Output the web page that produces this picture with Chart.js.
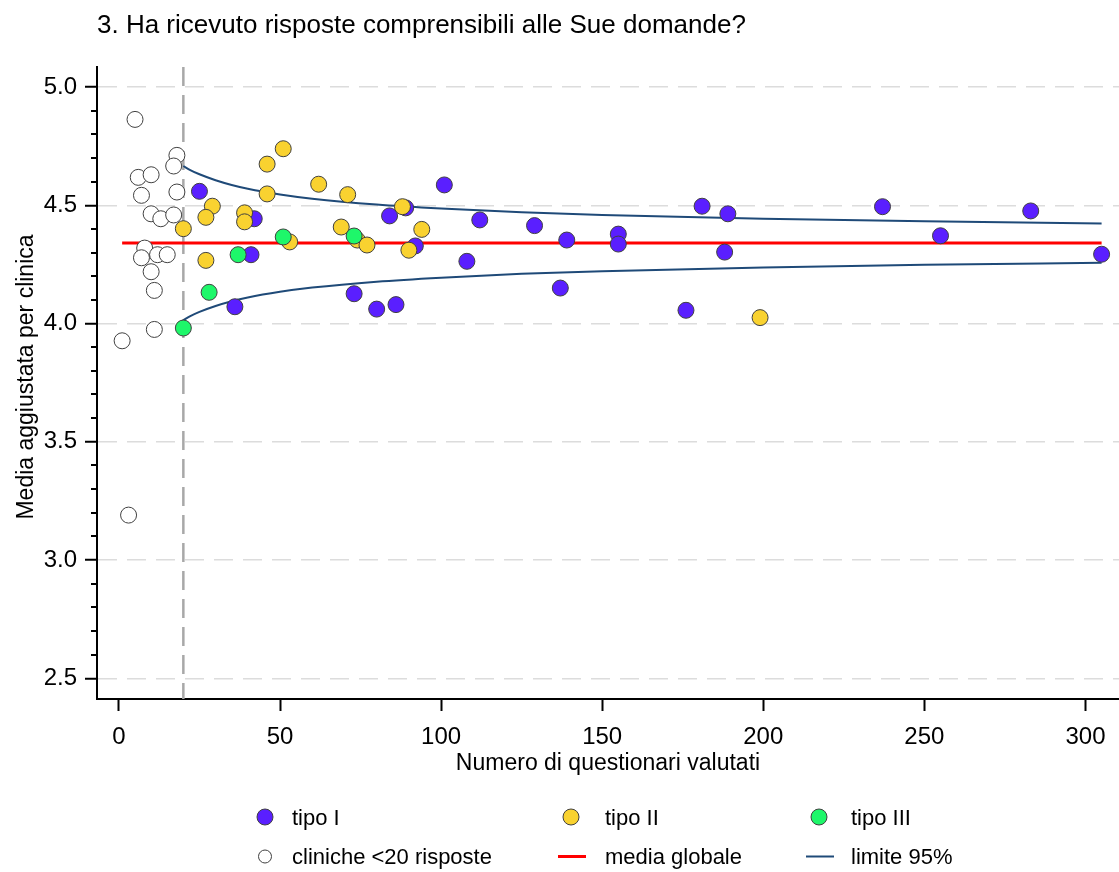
<!DOCTYPE html>
<html>
<head>
<meta charset="utf-8">
<script src="https://cdn.jsdelivr.net/npm/chart.js@4"></script>
<style>
  body { margin: 0; background: #fff; }
  #wrap { width: 1119px; height: 872px; }
</style>
</head>
<body>
<div id="wrap"><canvas id="mychart" width="1119" height="872"></canvas></div>
<script>
// -------- data ----------------------------------------
const chartTitle = '3. Ha ricevuto risposte comprensibili alle Sue domande?';
const xTitle = 'Numero di questionari valutati';
const yTitle = 'Media aggiustata per clinica';

// tipo I (purple)
const tipo1N    = [25, 42, 41, 36, 101, 89, 84, 112, 129, 139, 155, 155, 92, 108, 137, 73, 80, 86, 181, 189, 188, 237, 255, 283, 305, 176];
const tipo1Mean = [4.559, 4.443, 4.291, 4.071, 4.586, 4.489, 4.455, 4.438, 4.414, 4.353, 4.378, 4.336, 4.328, 4.263, 4.150, 4.126, 4.061, 4.080, 4.496, 4.464, 4.302, 4.494, 4.371, 4.476, 4.293, 4.056];

// tipo II (yellow)
const tipo2N    = [29, 27, 20, 46, 51, 46, 39, 39, 62, 53, 27, 71, 88, 69, 74, 77, 94, 90, 199];
const tipo2Mean = [4.496, 4.449, 4.401, 4.674, 4.739, 4.548, 4.468, 4.430, 4.589, 4.345, 4.267, 4.545, 4.494, 4.408, 4.353, 4.332, 4.398, 4.310, 4.025];

// tipo III (green)
const tipo3N    = [51, 37, 28, 20, 73];
const tipo3Mean = [4.366, 4.291, 4.132, 3.981, 4.370];

// cliniche con meno di 20 risposte (white)
const smallN    = [5, 18, 17, 6, 10, 7, 18, 10, 13, 17, 8, 7, 12, 15, 10, 11, 11, 1, 3];
const smallMean = [4.863, 4.711, 4.666, 4.618, 4.629, 4.542, 4.556, 4.464, 4.443, 4.459, 4.319, 4.278, 4.291, 4.291, 4.219, 4.140, 3.975, 3.927, 3.190];

// media globale
const meanN = [1, 305];
const globalMean = 4.340;

// limiti 95%
const limitN     = [20, 22, 25, 30, 35, 40, 50, 60, 80, 100, 125, 150, 200, 250, 305];
const limitUpper = [4.666, 4.650, 4.631, 4.606, 4.586, 4.570, 4.546, 4.528, 4.503, 4.486, 4.470, 4.459, 4.443, 4.432, 4.423];
const limitLower = [4.014, 4.030, 4.049, 4.074, 4.094, 4.110, 4.134, 4.152, 4.177, 4.194, 4.210, 4.221, 4.237, 4.248, 4.257];

const cutoffN = 20;

// axes
const xTicks = [0, 50, 100, 150, 200, 250, 300];
const yTicks = [2.5, 3.0, 3.5, 4.0, 4.5, 5.0];
const yMinorTicks = [2.6, 2.7, 2.8, 2.9, 3.1, 3.2, 3.3, 3.4, 3.6, 3.7, 3.8, 3.9, 4.1, 4.2, 4.3, 4.4, 4.6, 4.7, 4.8, 4.9];
const X_MIN = -6.8, X_MAX = 310.4;
const Y_MIN = 2.4125, Y_MAX = 5.0846;

// -------- styles --------------------
const FONT = '"Liberation Sans", Arial, Helvetica, sans-serif';
const COLORS = {
  tipo1: '#5a1fff',
  tipo2: '#f9d230',
  tipo3: '#1ef76a',
  small: '#ffffff',
  mean: '#ff0000',
  limit: '#1f4a78',
  edge: '#404040'
};

const toPoints = (xs, ys) => xs.map((x, i) => ({ x: x, y: ys[i] }));

function dotSet(label, xs, ys, color, order) {
  return {
    type: 'scatter',
    label: label,
    data: toPoints(xs, ys),
    backgroundColor: color,
    borderColor: COLORS.edge,
    borderWidth: 1,
    pointRadius: 8,
    pointHoverRadius: 8,
    order: order
  };
}

function lineSet(label, xs, ys, color, width, order) {
  return {
    type: 'line',
    label: label,
    data: toPoints(xs, ys),
    borderColor: color,
    borderWidth: width,
    pointRadius: 0,
    fill: false,
    cubicInterpolationMode: 'monotone',
    order: order
  };
}

const datasets = [
  dotSet('tipo III', tipo3N, tipo3Mean, COLORS.tipo3, 1),
  dotSet('tipo II', tipo2N, tipo2Mean, COLORS.tipo2, 2),
  dotSet('tipo I', tipo1N, tipo1Mean, COLORS.tipo1, 3),
  dotSet('cliniche <20 risposte', smallN, smallMean, COLORS.small, 4),
  lineSet('media globale', meanN, meanN.map(() => globalMean), COLORS.mean, 3, 5),
  lineSet('limite 95%', limitN, limitUpper, COLORS.limit, 2, 6),
  lineSet('limite 95% inf', limitN, limitLower, COLORS.limit, 2, 6),
  {
    type: 'line',
    label: 'cutoff',
    data: [{ x: cutoffN, y: Y_MAX }, { x: cutoffN, y: Y_MIN }],
    borderColor: '#a8a8a8',
    borderWidth: 2.5,
    borderDash: [19, 9],
    pointRadius: 0,
    order: 7
  }
];

// legend entries: [label, kind, color, column, row]
const legendItems = [
  ['tipo I', 'dot', COLORS.tipo1, 0, 0],
  ['tipo II', 'dot', COLORS.tipo2, 1, 0],
  ['tipo III', 'dot', COLORS.tipo3, 2, 0],
  ['cliniche <20 risposte', 'ring', COLORS.small, 0, 1],
  ['media globale', 'line', COLORS.mean, 1, 1],
  ['limite 95%', 'line', COLORS.limit, 2, 1]
];
const legendMarkX = [265, 571, 819];
const legendTextX = [292, 605, 851];
const legendRowY = [817, 856.5];

// -------- extra drawing: minor ticks, titles, legend --------------------
const decor = {
  id: 'decor',
  afterDraw(chart) {
    const { ctx, chartArea, scales } = chart;
    const y = scales.y;
    ctx.save();

    // minor ticks on y axis
    ctx.strokeStyle = '#000';
    ctx.lineWidth = 2;
    yMinorTicks.forEach(v => {
      const py = Math.round(y.getPixelForValue(v));
      ctx.beginPath();
      ctx.moveTo(chartArea.left - 6, py);
      ctx.lineTo(chartArea.left, py);
      ctx.stroke();
    });

    ctx.fillStyle = '#000';
    ctx.textBaseline = 'alphabetic';

    // title
    ctx.font = '26px ' + FONT;
    ctx.textAlign = 'left';
    ctx.fillText(chartTitle, 97, 33);

    // x axis title
    ctx.font = '23px ' + FONT;
    ctx.textAlign = 'center';
    ctx.fillText(xTitle, (chartArea.left + chartArea.right) / 2, 770);

    // y axis title
    ctx.save();
    ctx.translate(33, 377);
    ctx.rotate(-Math.PI / 2);
    ctx.fillText(yTitle, 0, 0);
    ctx.restore();

    // legend
    ctx.font = '22px ' + FONT;
    ctx.textAlign = 'left';
    legendItems.forEach(([label, kind, color, col, row]) => {
      const mx = legendMarkX[col];
      const my = legendRowY[row];
      if (kind === 'dot') {
        ctx.beginPath();
        ctx.arc(mx, my, 8, 0, Math.PI * 2);
        ctx.fillStyle = color;
        ctx.fill();
        ctx.strokeStyle = COLORS.edge;
        ctx.lineWidth = 1;
        ctx.stroke();
      } else if (kind === 'ring') {
        ctx.beginPath();
        ctx.arc(mx, my, 6.5, 0, Math.PI * 2);
        ctx.fillStyle = color;
        ctx.fill();
        ctx.strokeStyle = COLORS.edge;
        ctx.lineWidth = 1;
        ctx.stroke();
      } else {
        ctx.beginPath();
        ctx.moveTo(mx - 13, my);
        ctx.lineTo(mx + 15, my);
        ctx.strokeStyle = color;
        ctx.lineWidth = color === COLORS.mean ? 3 : 2;
        ctx.stroke();
      }
      ctx.fillStyle = '#000';
      ctx.fillText(label, legendTextX[col], my + 7.5);
    });

    ctx.restore();
  }
};

//build chart
const mychart = document.getElementById('mychart');
const chart = new Chart(mychart, {
  type: 'scatter',
  data: { datasets: datasets },
  plugins: [decor],
  options: {
    responsive: false,
    animation: false,
    layout: { autoPadding: false, padding: { top: 67, left: 0, right: 0, bottom: 0 } },
    plugins: {
      legend: { display: false },
      title: { display: false },
      tooltip: { enabled: false }
    },
    scales: {
      x: {
        type: 'linear',
        min: X_MIN,
        max: X_MAX,
        afterFit: s => { s.height = 173; s.paddingLeft = 0; s.paddingRight = 0; },
        afterBuildTicks: s => { s.ticks = xTicks.map(v => ({ value: v })); },
        grid: {
          drawOnChartArea: false,
          drawTicks: true,
          tickLength: 12,
          tickWidth: 2,
          tickColor: '#000'
        },
        border: { color: '#000', width: 2 },
        ticks: {
          autoSkip: false,
          maxRotation: 0,
          padding: 12,
          color: '#000',
          font: { family: FONT, size: 24 }
        }
      },
      y: {
        type: 'linear',
        min: Y_MIN,
        max: Y_MAX,
        afterFit: s => { s.width = 97; s.paddingTop = 0; s.paddingBottom = 0; },
        afterBuildTicks: s => { s.ticks = yTicks.map(v => ({ value: v })); },
        grid: {
          color: '#dcdcdc',
          lineWidth: 1.5,
          drawTicks: true,
          tickLength: 12,
          tickWidth: 2,
          tickColor: '#000',
          tickBorderDash: []
        },
        border: { color: '#000', width: 2, dash: [19, 10] },
        ticks: {
          padding: 8,
          color: '#000',
          font: { family: FONT, size: 24 },
          callback: v => v.toFixed(1)
        }
      }
    }
  }
});
</script>
</body>
</html>
